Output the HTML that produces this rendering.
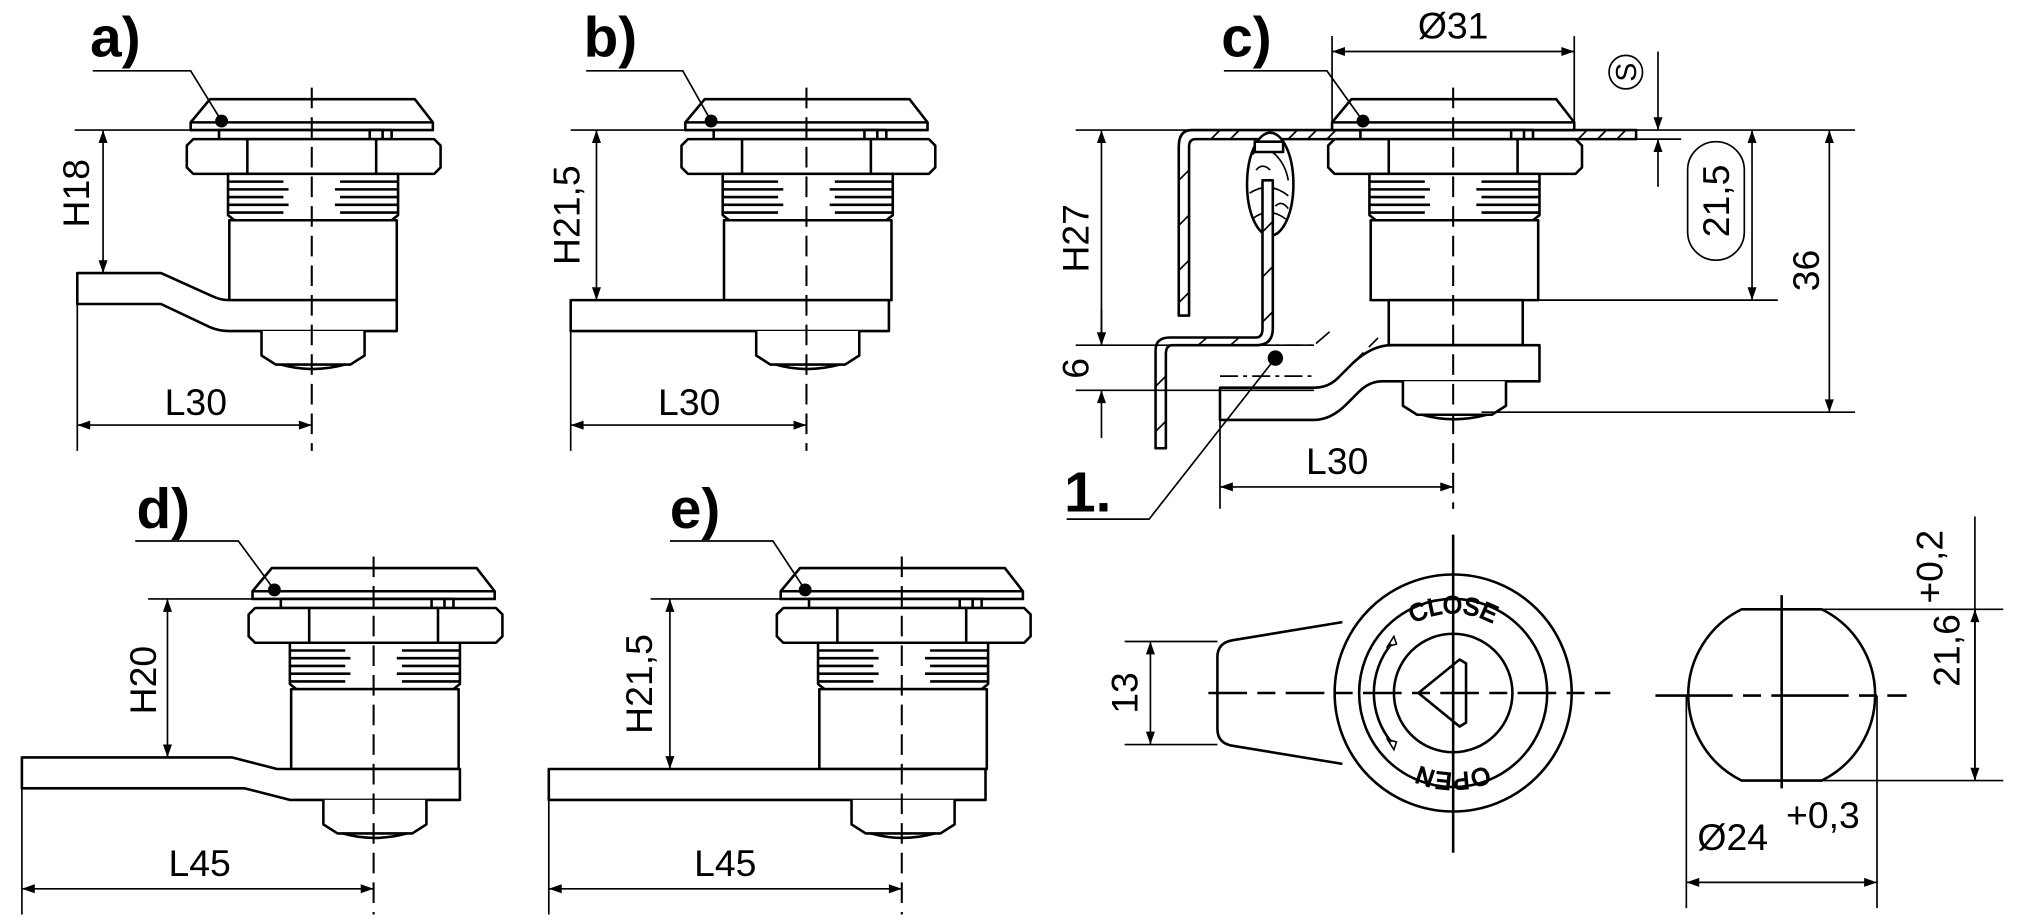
<!DOCTYPE html>
<html><head><meta charset="utf-8"><style>
html,body{margin:0;padding:0;background:#fff}
svg{display:block}
text{font-family:"Liberation Sans",Arial,sans-serif;fill:#000}
.o{fill:#fff;stroke:#000;stroke-width:2;stroke-linejoin:round}
.n{fill:none;stroke:#000;stroke-width:2}
.d{fill:none;stroke:#000;stroke-width:1.3}
.c{fill:none;stroke:#000;stroke-width:1.6;stroke-dasharray:16 7}
.t{font-size:29px}
.b{font-size:44px;font-weight:bold}
</style></head><body>
<svg width="2020" height="921" viewBox="0 0 1568 715" preserveAspectRatio="none" xmlns="http://www.w3.org/2000/svg">
<defs>
<marker id="a" viewBox="0 0 10 10" refX="10" refY="5" markerWidth="16" markerHeight="10" markerUnits="userSpaceOnUse" orient="auto-start-reverse"><path d="M0,1.5 L10,5 L0,8.5z" fill="#000"/></marker>
<g id="head">
 <polygon class="o" points="-79,-24 80,-24 94,-6 94,0 -94,0 -94,-6"/>
 <line class="n" x1="-94" y1="-6" x2="94" y2="-6"/>
 <rect class="o" x="-72" y="0" width="134" height="7"/>
 <rect class="o" x="45" y="0" width="10" height="7"/>
 <polygon class="o" points="-97,12 -92,7 95,7 100,12 100,29 95,34 -92,34 -97,29"/>
 <line class="n" x1="-50" y1="7" x2="-50" y2="34"/><line class="n" x1="50" y1="7" x2="50" y2="34"/>
 <path class="o" d="M-65,34 H67 V66 L62,70 H-60 L-65,66 Z"/>
 <path class="n" d="M-65,40H-22M-65,46H-18M-65,52H-22M-65,58H-18M-65,64H-22M22,40H67M18,46H67M22,52H67M18,58H67M22,64H67"/>
 <rect class="o" x="-64" y="70" width="130" height="62"/>
</g>
<g id="knob">
 <path class="o" d="M-39,0 V19 L-28,26 H30 L41,19 V0"/>
 <path class="n" d="M-24,26 Q0,33 26,26"/>
</g>
</defs>

<!-- a) -->
<use href="#head" x="242" y="101"/>
<path class="o" d="M60,212 H125 L165,230 Q171,233 178,233 H308 V257 H178 Q170,257 163,254 L125,236 H60 Z"/>
<use href="#knob" x="242" y="257"/>
<line class="c" x1="242" y1="68" x2="242" y2="350"/>
<text class="b" x="70" y="44">a)</text>
<polyline class="d" points="72,55 148,55 172,94"/><circle cx="172" cy="94" r="5"/>
<line class="d" x1="58" y1="101" x2="150" y2="101"/>
<line class="d" x1="80" y1="101" x2="80" y2="212" marker-start="url(#a)" marker-end="url(#a)"/>
<text class="t" transform="translate(69,150) rotate(-90)" text-anchor="middle">H18</text>
<line class="d" x1="60" y1="236" x2="60" y2="350"/>
<line class="d" x1="60" y1="330" x2="242" y2="330" marker-start="url(#a)" marker-end="url(#a)"/>
<text class="t" x="152" y="322" text-anchor="middle">L30</text>

<!-- b) -->
<use href="#head" x="626" y="101"/>
<rect class="o" x="443" y="233" width="247" height="24"/>
<use href="#knob" x="626" y="257"/>
<line class="c" x1="626" y1="68" x2="626" y2="350"/>
<text class="b" x="453" y="44">b)</text>
<polyline class="d" points="455,55 530,55 552,94"/><circle cx="552" cy="94" r="5"/>
<line class="d" x1="443" y1="101" x2="535" y2="101"/>
<line class="d" x1="463" y1="101" x2="463" y2="233" marker-start="url(#a)" marker-end="url(#a)"/>
<text class="t" transform="translate(450,167) rotate(-90)" text-anchor="middle">H21,5</text>
<line class="d" x1="443" y1="257" x2="443" y2="350"/>
<line class="d" x1="443" y1="330" x2="626" y2="330" marker-start="url(#a)" marker-end="url(#a)"/>
<text class="t" x="535" y="322" text-anchor="middle">L30</text>

<!-- c) -->
<path class="o" d="M925,101 H1270 V108 H928 Q923,108 923,114 V245 H915 V114 Q915,101 925,101 Z"/>
<path class="d" d="M940,108 L947,101 M955,108 L962,101 M1000,108 L1007,101 M1015,108 L1022,101 M1030,108 L1037,101 M1225,108 L1232,101 M1240,108 L1247,101 M1255,108 L1262,101 M915,140 L923,132 M915,175 L923,167 M915,210 L923,202 M915,235 L923,227"/>
<ellipse class="o" cx="986" cy="143" rx="18" ry="40"/>
<path class="d" d="M972,120 Q980,112 990,120 Q998,128 1000,140 M970,150 Q985,140 1000,152 M972,170 Q985,160 998,170 M975,132 Q980,126 986,132 M990,160 Q995,155 1000,162"/>
<rect class="o" x="974" y="110" width="22" height="8"/>
<path class="o" d="M980,140 H988 V255 Q988,268 975,268 H910 Q905,268 905,275 V348 H897 V272 Q897,262 908,262 H975 Q980,262 980,255 Z"/>
<path class="d" d="M980,180 L988,172 M980,215 L988,207 M980,250 L988,242 M930,268 L937,262 M955,268 L962,262 M897,300 L905,292 M897,335 L905,327"/>
<use href="#head" x="1128" y="101"/>
<rect class="o" x="1078" y="233" width="104" height="35"/>
<path class="o" d="M1195,268 H1080 Q1065,268 1050,282 L1040,292 Q1032,301 1020,301 H947 V326 H1020 Q1033,326 1045,314 L1055,304 Q1063,296 1073,296 H1195 Z"/>
<path class="d" d="M947,268 H1020 L1035,255 M947,292 H1020" stroke-dasharray="14 4 3 4"/>
<path class="d" d="M1040,292 L1070,262" stroke-dasharray="10 6"/>
<use href="#knob" x="1128" y="296"/>
<line class="c" x1="1128" y1="68" x2="1128" y2="395"/>
<text class="b" x="948" y="44">c)</text>
<polyline class="d" points="950,55 1030,55 1058,94"/><circle cx="1058" cy="94" r="5"/>
<text class="b" x="826" y="397">1.</text>
<polyline class="d" points="828,403 892,403 990,278"/><circle cx="990" cy="278" r="6"/>
<line class="d" x1="835" y1="101" x2="925" y2="101"/>
<line class="d" x1="835" y1="268" x2="1020" y2="268"/>
<line class="d" x1="835" y1="303" x2="1020" y2="303"/>
<line class="d" x1="855" y1="101" x2="855" y2="268" marker-start="url(#a)" marker-end="url(#a)"/>
<text class="t" transform="translate(845,185) rotate(-90)" text-anchor="middle">H27</text>
<line class="d" x1="855" y1="240" x2="855" y2="268" marker-end="url(#a)"/>
<line class="d" x1="855" y1="340" x2="855" y2="303" marker-end="url(#a)"/>
<text class="t" transform="translate(845,286) rotate(-90)" text-anchor="middle">6</text>
<line class="d" x1="1034" y1="28" x2="1034" y2="95"/>
<line class="d" x1="1222" y1="28" x2="1222" y2="95"/>
<line class="d" x1="1034" y1="40" x2="1222" y2="40" marker-start="url(#a)" marker-end="url(#a)"/>
<text class="t" x="1128" y="30" text-anchor="middle">Ø31</text>
<circle class="d" cx="1262" cy="56" r="13"/>
<text transform="translate(1270,56) rotate(-90)" text-anchor="middle" font-size="22">S</text>
<line class="d" x1="1287" y1="40" x2="1287" y2="101" marker-end="url(#a)"/>
<line class="d" x1="1287" y1="145" x2="1287" y2="108" marker-end="url(#a)"/>
<line class="d" x1="1270" y1="108" x2="1305" y2="108"/>
<line class="d" x1="1270" y1="101" x2="1440" y2="101"/>
<line class="d" x1="1182" y1="233" x2="1380" y2="233"/>
<line class="d" x1="1360" y1="101" x2="1360" y2="233" marker-start="url(#a)" marker-end="url(#a)"/>
<rect class="d" x="1310" y="110" width="44" height="92" rx="22"/>
<text class="t" transform="translate(1342,156) rotate(-90)" text-anchor="middle">21,5</text>
<line class="d" x1="1150" y1="320" x2="1440" y2="320"/>
<line class="d" x1="1420" y1="101" x2="1420" y2="320" marker-start="url(#a)" marker-end="url(#a)"/>
<text class="t" transform="translate(1412,210) rotate(-90)" text-anchor="middle">36</text>
<line class="d" x1="947" y1="326" x2="947" y2="395"/>
<line class="d" x1="947" y1="378" x2="1128" y2="378" marker-start="url(#a)" marker-end="url(#a)"/>
<text class="t" x="1038" y="368" text-anchor="middle">L30</text>

<!-- d) -->
<use href="#head" x="290" y="465"/>
<path class="o" d="M17,588 H180 L215,597 H357 V621 H225 L190,612 H17 Z"/>
<use href="#knob" x="290" y="621"/>
<line class="c" x1="290" y1="432" x2="290" y2="710"/>
<text class="b" x="106" y="410">d)</text>
<polyline class="d" points="105,420 185,420 213,458"/><circle cx="213" cy="458" r="5"/>
<line class="d" x1="115" y1="465" x2="200" y2="465"/>
<line class="d" x1="130" y1="465" x2="130" y2="588" marker-start="url(#a)" marker-end="url(#a)"/>
<text class="t" transform="translate(121,528) rotate(-90)" text-anchor="middle">H20</text>
<line class="d" x1="17" y1="612" x2="17" y2="710"/>
<line class="d" x1="17" y1="690" x2="290" y2="690" marker-start="url(#a)" marker-end="url(#a)"/>
<text class="t" x="155" y="680" text-anchor="middle">L45</text>

<!-- e) -->
<use href="#head" x="700" y="465"/>
<rect class="o" x="426" y="597" width="339" height="24"/>
<use href="#knob" x="700" y="621"/>
<line class="c" x1="700" y1="432" x2="700" y2="710"/>
<text class="b" x="520" y="410">e)</text>
<polyline class="d" points="520,420 600,420 625,458"/><circle cx="625" cy="458" r="5"/>
<line class="d" x1="505" y1="465" x2="610" y2="465"/>
<line class="d" x1="520" y1="465" x2="520" y2="597" marker-start="url(#a)" marker-end="url(#a)"/>
<text class="t" transform="translate(506,531) rotate(-90)" text-anchor="middle">H21,5</text>
<line class="d" x1="426" y1="621" x2="426" y2="710"/>
<line class="d" x1="426" y1="690" x2="700" y2="690" marker-start="url(#a)" marker-end="url(#a)"/>
<text class="t" x="563" y="680" text-anchor="middle">L45</text>

<!-- bottom view -->
<path class="o" d="M1042,483 L957,497 Q945,499 945,510 V566 Q945,577 957,579 L1042,593"/>
<circle class="o" cx="1128" cy="538" r="92"/>
<circle class="n" cx="1128" cy="538" r="73"/>
<circle class="n" cx="1128" cy="538" r="46"/>
<path class="n" d="M1080,500 A60,60 0 0 0 1080,576" />
<path d="M1082,494 l-5,8 l7,-2z M1082,582 l-5,-8 l7,2z" fill="none" stroke="#000" stroke-width="1.2"/>
<path class="n" d="M1101,538 L1133,512 L1138,515 V561 L1133,564 Z"/>
<path id="arcT" d="M1066,538 A62,62 0 0 1 1190,538" fill="none"/>
<text font-size="19" fill="#fff" stroke="#000" stroke-width="1"><textPath href="#arcT" startOffset="50%" text-anchor="middle">CLOSE</textPath></text>
<g transform="rotate(180 1128 538)"><text font-size="19" fill="#fff" stroke="#000" stroke-width="1"><textPath href="#arcT" startOffset="50%" text-anchor="middle">OPEN</textPath></text></g>
<line class="n" x1="1128" y1="415" x2="1128" y2="662"/>
<line class="n" x1="938" y1="538" x2="1250" y2="538" stroke-dasharray="30 8 14 8"/>
<line class="d" x1="873" y1="498" x2="945" y2="498"/>
<line class="d" x1="873" y1="578" x2="945" y2="578"/>
<line class="d" x1="893" y1="498" x2="893" y2="578" marker-start="url(#a)" marker-end="url(#a)"/>
<text class="t" transform="translate(883,538) rotate(-90)" text-anchor="middle">13</text>

<!-- right view -->
<path class="o" d="M1352,473 H1414 A74,74 0 0 1 1414,606 H1352 A74,74 0 0 1 1352,473 Z"/>
<line class="n" x1="1285" y1="540" x2="1480" y2="540" stroke-dasharray="60 8 14 8"/>
<line class="n" x1="1383" y1="462" x2="1383" y2="612"/>
<line class="d" x1="1414" y1="473" x2="1555" y2="473"/>
<line class="d" x1="1414" y1="606" x2="1555" y2="606"/>
<line class="d" x1="1533" y1="401" x2="1533" y2="606"/>
<line class="d" x1="1533" y1="473" x2="1533" y2="606" marker-start="url(#a)" marker-end="url(#a)"/>
<text class="t" transform="translate(1521,505) rotate(-90)" text-anchor="middle">21,6</text>
<text class="t" transform="translate(1508,440) rotate(-90)" text-anchor="middle">+0,2</text>
<line class="d" x1="1309" y1="540" x2="1309" y2="705"/>
<line class="d" x1="1457" y1="540" x2="1457" y2="705"/>
<line class="d" x1="1309" y1="685" x2="1457" y2="685" marker-start="url(#a)" marker-end="url(#a)"/>
<text class="t" x="1345" y="660" text-anchor="middle">Ø24</text>
<text class="t" x="1415" y="643" text-anchor="middle">+0,3</text>
</svg>
</body></html>
